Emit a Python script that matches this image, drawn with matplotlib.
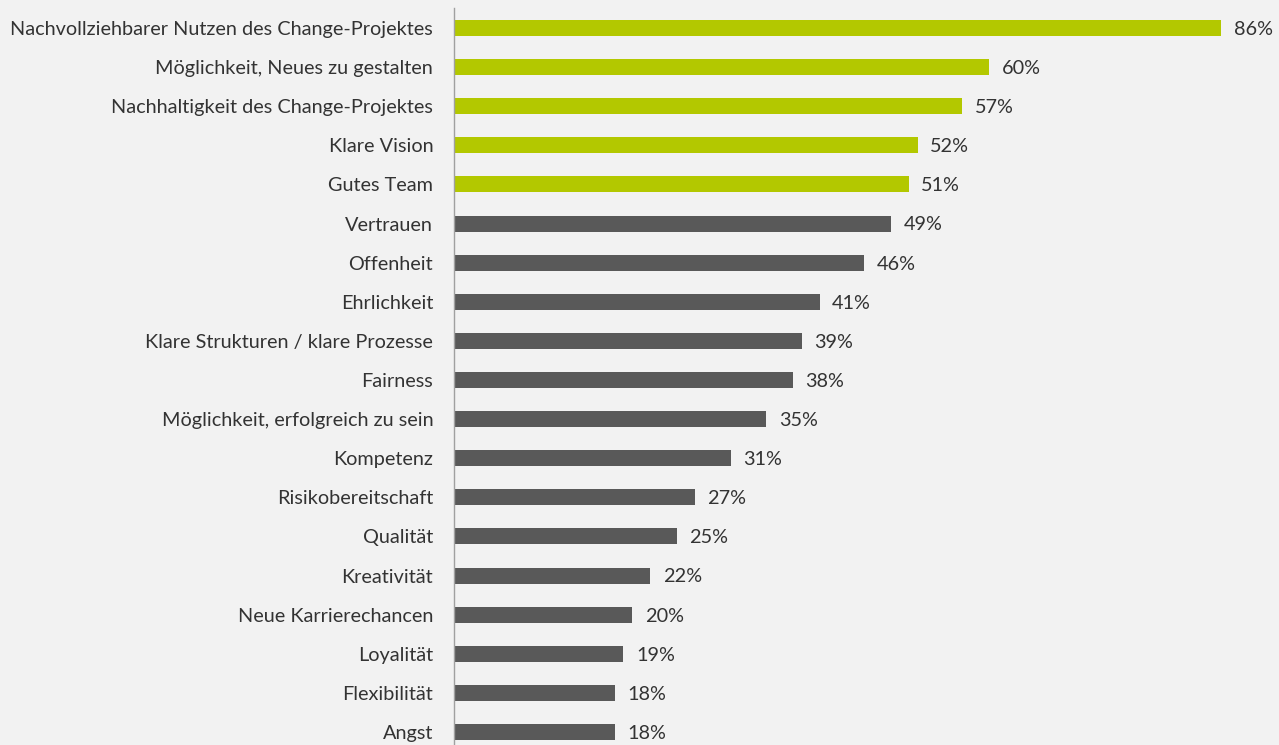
import matplotlib
matplotlib.use('Agg')
import matplotlib.pyplot as plt

# categories from top to bottom, values in percent
categories = [
    'Nachvollziehbarer Nutzen des Change-Projektes',
    'Möglichkeit, Neues zu gestalten',
    'Nachhaltigkeit des Change-Projektes',
    'Klare Vision',
    'Gutes Team',
    'Vertrauen',
    'Offenheit',
    'Ehrlichkeit',
    'Klare Strukturen / klare Prozesse',
    'Fairness',
    'Möglichkeit, erfolgreich zu sein',
    'Kompetenz',
    'Risikobereitschaft',
    'Qualität',
    'Kreativität',
    'Neue Karrierechancen',
    'Loyalität',
    'Flexibilität',
    'Angst',
]
values = [86, 60, 57, 52, 51, 49, 46, 41, 39, 38, 35, 31, 27, 25, 22, 20, 19, 18, 18]
highlight_count = 5

green = '#b3c800'
grey = '#595959'
bg = '#f2f2f2'
text_col = '#333333'

plt.rcParams['font.family'] = ['Lato', 'DejaVu Sans']

fig = plt.figure(figsize=(12.79, 7.45), dpi=100, facecolor=bg)
ax = fig.add_axes([454 / 1279, -6.5 / 745, 825 / 1279, 743 / 745])
ax.set_facecolor(bg)

colors = [green if i < highlight_count else grey for i in range(len(values))]
rows = list(range(len(values)))
ax.barh(rows, values, height=0.41, color=colors)

ax.set_xlim(0, 825 / 8.92)
ax.set_ylim(len(values) - 0.5, -0.5)

for r, v in zip(rows, values):
    ax.annotate(f'{v}%', xy=(v, r), xytext=(9, -1), textcoords='offset points',
                va='center', ha='left', fontsize=14.3, color=text_col)

ax.set_yticks(rows)
ax.set_yticklabels(categories, fontsize=14.3, color=text_col)
ax.tick_params(axis='y', length=0, pad=15)
ax.set_xticks([])

for s in ['top', 'right', 'bottom']:
    ax.spines[s].set_visible(False)
ax.spines['left'].set_color('#a0a0a0')
ax.spines['left'].set_linewidth(1)

fig.savefig('out.png', dpi=100, facecolor=bg)
